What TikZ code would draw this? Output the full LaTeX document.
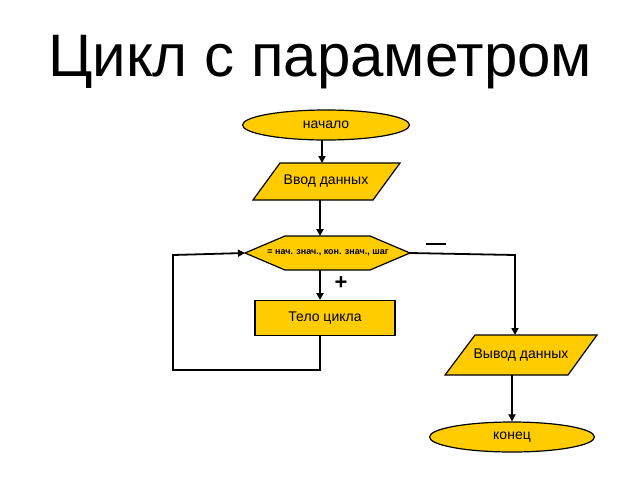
\documentclass[tikz,border=0pt]{standalone}
\usepackage{fontspec}
\setmainfont{Liberation Sans}
\usetikzlibrary{shapes.geometric,arrows.meta}
\definecolor{fy}{RGB}{255,204,0}
\tikzset{blk/.style={draw=black,fill=fy,line width=1.2pt},
 con/.style={line width=1.8pt,-{Triangle[length=7pt,width=7pt]}},
 ln/.style={line width=1.8pt},
 lab/.style={font=\fontsize{14}{16}\selectfont}}
\begin{document}
\begin{tikzpicture}[x=1pt,y=-1pt]
\useasboundingbox (0,0) rectangle (640,480);
\node (title) at (320,62) {\fontsize{60}{66}\selectfont Цикл с параметром};
\node[blk,ellipse,minimum width=167,minimum height=30,inner sep=0,lab] (start) at (326,125) {начало};
\draw[blk] (280,163) -- (400,163) -- (373,200) -- (253,200) -- cycle;
\node[lab] (in) at (326,181) {Ввод данных};
\draw[blk] (245,253) -- (285,236) -- (370,236) -- (410,253) -- (370,270) -- (285,270) -- cycle;
\node (loop) at (328,253) {\fontsize{9}{10}\selectfont\bfseries = нач. знач., кон. знач., шаг};
\coordinate (hl) at (245,253); \coordinate (hr) at (410,253);
\node[blk,rectangle,minimum width=140,minimum height=35,inner sep=0,lab] (body) at (325,318) {Тело цикла};
\draw[blk] (475,335) -- (597,335) -- (568,375) -- (445,375) -- cycle;
\node[lab] (out) at (521,355) {Вывод данных};
\node[blk,ellipse,minimum width=165,minimum height=30,inner sep=0,lab] (end) at (512,437) {конец};
\draw[con] (322,140) -- (322,163);
\draw[con] (320,200) -- (320,236);
\draw[con] (320,270) -- (320,300);
\draw[con] (320,335) -- (320,370) -- (173,370) -- (173,255) -- (hl);
\draw[con] (hr) -- (515,255) -- (515,335);
\draw[con] (512,375) -- (end.north);
\node at (341,283) {\fontsize{22}{24}\selectfont\bfseries +};
\draw[ln] (426,244) -- (446,244);
\end{tikzpicture}
\end{document}
